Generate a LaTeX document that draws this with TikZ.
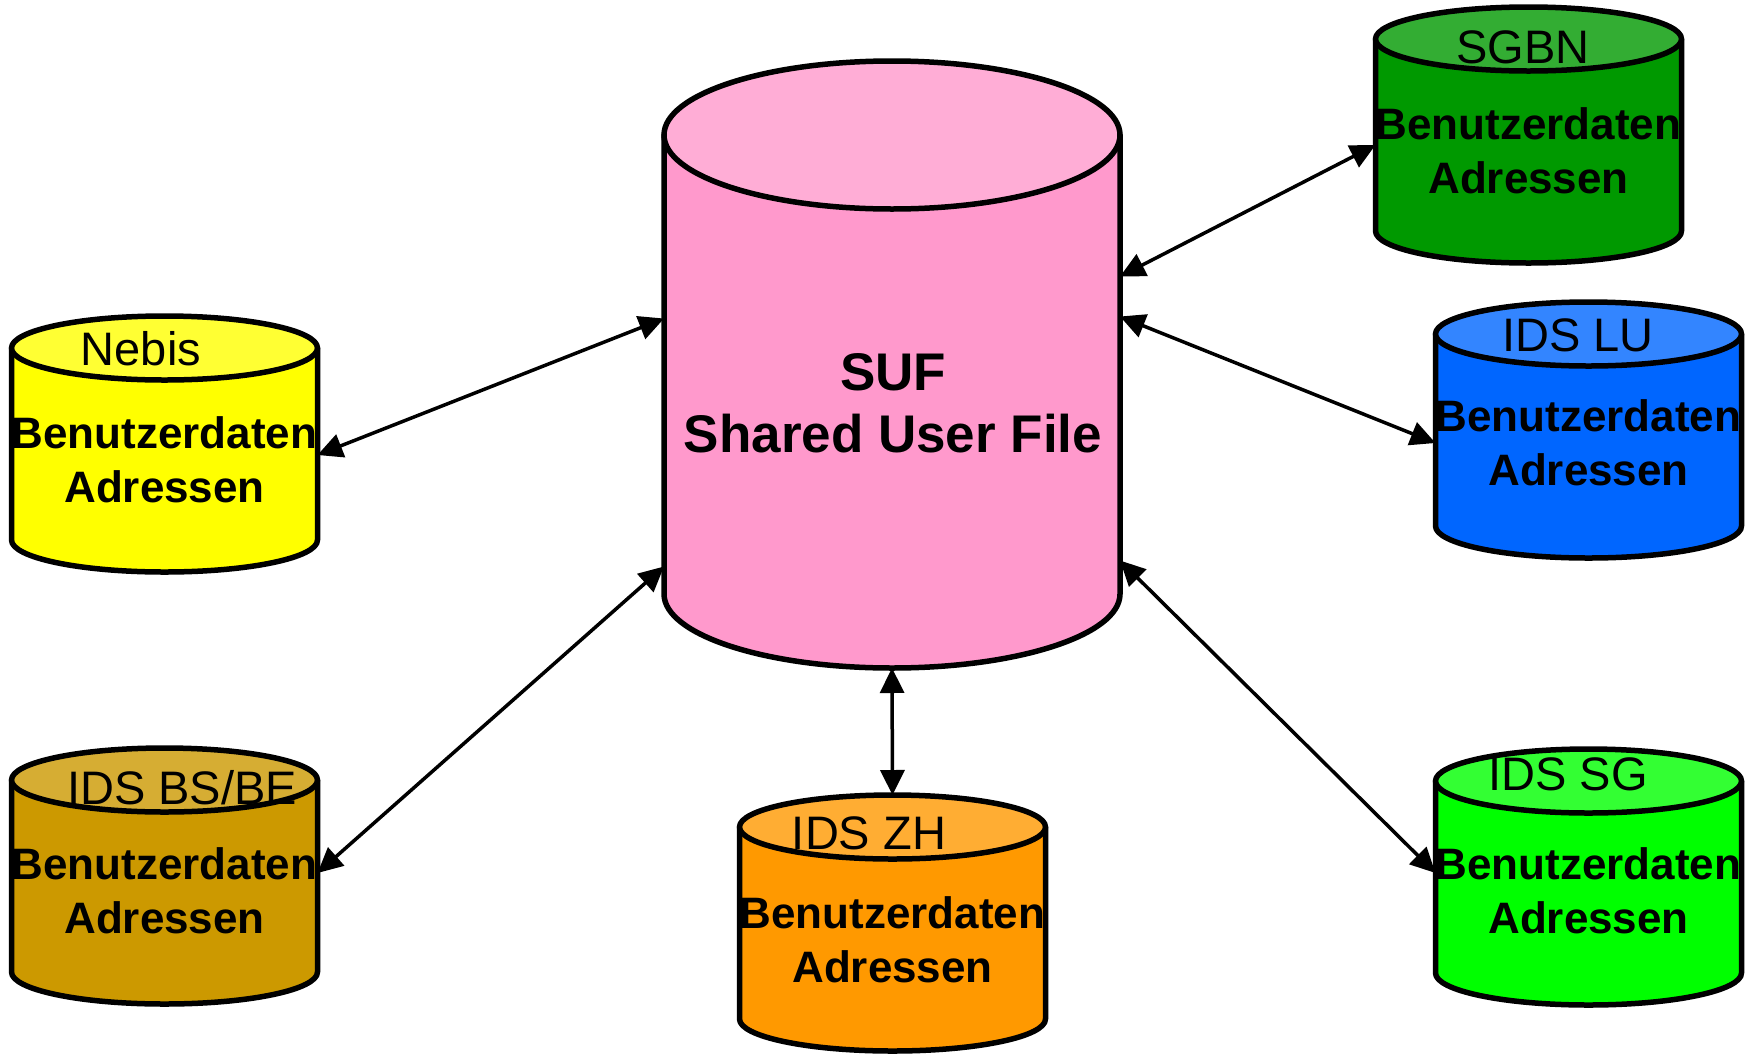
\documentclass[tikz,border=0pt]{standalone}
\usepackage{fontspec}
\setmainfont{Liberation Sans}
\usepackage{tikz}
\usetikzlibrary{arrows.meta}

\definecolor{sufbody}{HTML}{FF99CC}
\definecolor{suftop}{HTML}{FFADD6}
\definecolor{nebisbody}{HTML}{FFFF00}
\definecolor{nebistop}{HTML}{FFFF33}
\definecolor{sgbnbody}{HTML}{009900}
\definecolor{sgbntop}{HTML}{33AD33}
\definecolor{lubody}{HTML}{0066FF}
\definecolor{lutop}{HTML}{3385FF}
\definecolor{sgbody}{HTML}{00FF00}
\definecolor{sgtop}{HTML}{33FF33}
\definecolor{bsbody}{HTML}{CC9900}
\definecolor{bstop}{HTML}{D6AD33}
\definecolor{zhbody}{HTML}{FF9900}
\definecolor{zhtop}{HTML}{FFAD33}

% cylinder round a named box: node, x radius, y radius, body colour, top colour
\newcommand{\dbshape}[5]{%
  \draw[dbline, fill=#4] ([yshift=-#3]#1.north west) -- ([yshift=#3]#1.south west)
    arc[start angle=180, end angle=360, x radius=#2, y radius=#3]
    -- ([yshift=-#3]#1.north east) -- cycle;
  \draw[dbline, fill=#5] ([yshift=-#3]#1.north) ellipse[x radius=#2, y radius=#3];
}

\tikzset{
  dbbox/.style={minimum width=306pt, minimum height=256pt, inner sep=0pt, outer sep=0pt},
  dbline/.style={line width=5.5pt, line join=round},
  dbname/.style={anchor=base, inner sep=0pt, font=\fontsize{47}{50}\selectfont},
  dbtext/.style={anchor=base, inner sep=0pt, align=center, font=\fontsize{44}{54}\selectfont\bfseries},
  suftext/.style={anchor=base, inner sep=0pt, align=center, font=\fontsize{53}{62}\selectfont\bfseries},
  link/.style={line width=3.5pt, {Triangle[length=25pt,width=24pt]}-{Triangle[length=25pt,width=24pt]}}
}

\begin{document}
\begin{tikzpicture}[x=1pt, y=-1pt]
   \useasboundingbox (0,0) rectangle (1757,1053);

   % boxes
   \node[dbbox, minimum width=456pt, minimum height=607pt] (suf) at (892,364.5) {};
   \node[dbbox] (nebis) at (164.5,444) {};
   \node[dbbox] (sgbn) at (1528.5,135) {};
   \node[dbbox] (idslu) at (1588.5,430) {};
   \node[dbbox] (idssg) at (1588.5,877) {};
   \node[dbbox] (idsbs) at (164.5,876) {};
   \node[dbbox] (idszh) at (892.5,923) {};

   % cylinders
   \dbshape{suf}{228pt}{74pt}{sufbody}{suftop}
   \dbshape{nebis}{153pt}{32pt}{nebisbody}{nebistop}
   \dbshape{sgbn}{153pt}{32pt}{sgbnbody}{sgbntop}
   \dbshape{idslu}{153pt}{32pt}{lubody}{lutop}
   \dbshape{idssg}{153pt}{32pt}{sgbody}{sgtop}
   \dbshape{idsbs}{153pt}{32pt}{bsbody}{bstop}
   \dbshape{idszh}{153pt}{32pt}{zhbody}{zhtop}

   % texts (base = last line)
   \node[suftext] (suflabel) at (893,452) {SUF\\Shared User File};
   \node[dbname] (nebisname) at (141,365) {Nebis};
   \node[dbtext] (nebistext) at (164.5,502) {Benutzerdaten\\Adressen};
   \node[dbname] (sgbnname) at (1523,63) {SGBN};
   \node[dbtext] (sgbntext) at (1528.5,193) {Benutzerdaten\\Adressen};
   \node[dbname] (luname) at (1578,351) {IDS LU};
   \node[dbtext] (lutext) at (1588.5,485) {Benutzerdaten\\Adressen};
   \node[dbname] (sgname) at (1568,790) {IDS SG};
   \node[dbtext] (sgtext) at (1588.5,933) {Benutzerdaten\\Adressen};
   \node[dbname] (bsname) at (182,804) {IDS BS/BE};
   \node[dbtext] (bstext) at (164.5,933) {Benutzerdaten\\Adressen};
   \node[dbname] (zhname) at (869,849) {IDS ZH};
   \node[dbtext] (zhtext) at (892.5,982) {Benutzerdaten\\Adressen};

   % links
   \draw[link] ([yshift=-11pt]nebis.east) -- ([yshift=46pt]suf.west);
   \draw[link] ([yshift=3pt]idsbs.east) -- ([yshift=-202pt]suf.west);
   \draw[link] (idszh.north) -- (suf.south);
   \draw[link] ([yshift=-10pt]sgbn.west) -- ([yshift=88pt]suf.east);
   \draw[link] ([yshift=-13pt]idslu.west) -- ([yshift=48pt]suf.east);
   \draw[link] ([yshift=4pt]idssg.west) -- ([yshift=-196pt]suf.east);
\end{tikzpicture}
\end{document}
